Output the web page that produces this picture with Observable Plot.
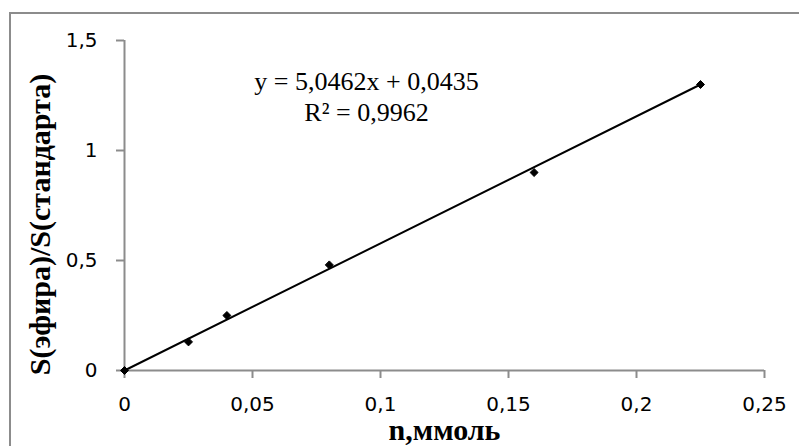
<!DOCTYPE html>
<html>
<head>
<meta charset="utf-8">
<script src="https://cdn.jsdelivr.net/npm/d3@7"></script>
<script src="https://cdn.jsdelivr.net/npm/@observablehq/plot@0.6"></script>
<style>
  html, body { margin: 0; padding: 0; background: #fff; }
  #wrap { position: relative; width: 799px; height: 446px; overflow: hidden; }
  #frame { position: absolute; left: 9px; top: 12px; width: 900px; height: 600px; border: 2px solid #8c8c8c; box-sizing: border-box; }
  #wrap svg { position: absolute; left: 0; top: 0; }
</style>
</head>
<body>
<div id="wrap"><div id="frame"></div></div>
<script>
const nValues = [0, 0.025, 0.04, 0.08, 0.16, 0.225];
const ratioValues = [0, 0.13, 0.25, 0.48, 0.90, 1.30];
const trendX = [0, 0.225];
const trendY = [0, 1.30];
const xTicks = [0, 0.05, 0.1, 0.15, 0.2, 0.25];
const yTicks = [0, 0.5, 1, 1.5];
const equationLines = ["y = 5,0462x + 0,0435", "R² = 0,9962"];
const xTitle = "n,ммоль";
const yTitle = "S(эфира)/S(стандарта)";

const points = nValues.map((n, i) => ({n, r: ratioValues[i]}));
const trend = trendX.map((n, i) => ({n, r: trendY[i]}));
const fmt = d => String(d).replace(".", ",");
const axisColor = "#8c8c8c";
const tickFont = "DejaVu Sans, sans-serif";
const serif = "Liberation Serif, Times New Roman, serif";

const chart = Plot.plot({
  width: 799,
  height: 446,
  marginLeft: 124,
  marginRight: 35,
  marginTop: 40,
  marginBottom: 76,
  style: {background: "transparent", overflow: "visible"},
  x: {domain: [0, 0.25]},
  y: {domain: [0, 1.5]},
  marks: [
    Plot.ruleX([0], {y1: 0, y2: 1.5, stroke: axisColor, strokeWidth: 2}),
    Plot.ruleY([0], {x1: 0, x2: 0.25, stroke: axisColor, strokeWidth: 2}),
    Plot.axisX({ticks: xTicks, tickFormat: fmt, tickSize: 8, tickPadding: 18, stroke: axisColor, strokeWidth: 2, fill: "#000", fontSize: 20, fontFamily: tickFont, label: null}),
    Plot.axisY({ticks: yTicks, tickFormat: fmt, tickSize: 8, tickPadding: 19, stroke: axisColor, strokeWidth: 2, fill: "#000", fontSize: 20, fontFamily: tickFont, label: null}),
    Plot.line(trend, {x: "n", y: "r", stroke: "#000", strokeWidth: 2}),
    Plot.dot(points, {x: "n", y: "r", symbol: "diamond2", fill: "#000", stroke: "#000", strokeWidth: 1, r: 3.6}),
    Plot.text([equationLines.join("\n")], {frameAnchor: "top-left", dx: 242, dy: 28, lineAnchor: "top", textAnchor: "middle", lineHeight: 1.18, fontSize: 26, fontFamily: serif, fill: "#000"}),
    Plot.text([xTitle], {frameAnchor: "bottom", dy: 60, textAnchor: "middle", lineAnchor: "middle", fontSize: 30, fontWeight: "bold", fontFamily: serif, fill: "#000"}),
    Plot.text([yTitle], {frameAnchor: "left", dx: -84, dy: 19, rotate: -90, textAnchor: "middle", lineAnchor: "middle", fontSize: 30, fontWeight: "bold", fontFamily: serif, fill: "#000"})
  ]
});
document.getElementById("wrap").appendChild(chart);
</script>
</body>
</html>
